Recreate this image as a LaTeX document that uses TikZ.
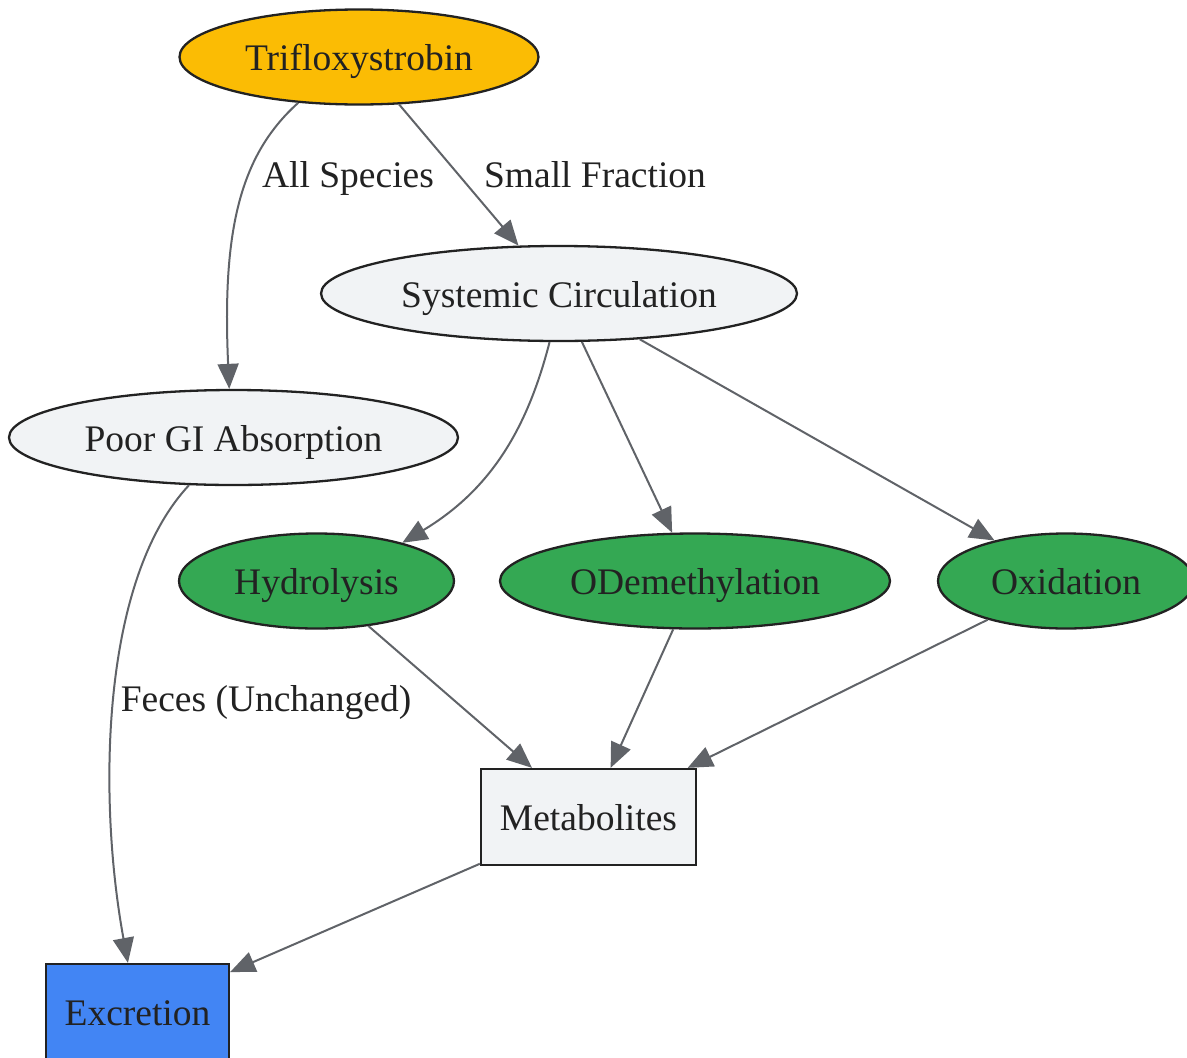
\documentclass[tikz,border=0pt]{standalone}
\usepackage{fontspec}
\setmainfont{Liberation Serif}
\usetikzlibrary{shapes.geometric,arrows.meta}
\definecolor{txt}{HTML}{222222}
\definecolor{edgec}{HTML}{606368}
\definecolor{yel}{HTML}{FBBC04}
\definecolor{lgray}{HTML}{F1F3F5}
\definecolor{grn}{HTML}{34A853}
\definecolor{blu}{HTML}{4285F4}
\tikzset{
  base/.style={draw=txt, line width=2.3pt, text=txt, inner sep=0pt, text height=30pt, text depth=3pt, font=\fontsize{37.5}{45}\selectfont},
  ell/.style={base, ellipse, minimum height=95pt},
  box/.style={base, rectangle, minimum height=96pt},
  conn/.style={draw=edgec, line width=2pt, -{Triangle[length=25pt,width=21pt]}},
  lbl/.style={text=txt, font=\fontsize{37.5}{45}\selectfont, inner sep=0pt, anchor=base}
}
\begin{document}
\begin{tikzpicture}[x=1pt,y=-1pt]
\useasboundingbox (0,0) rectangle (1187,1058);
\node[ell, fill=yel, minimum width=359pt] (t) at (359,57) {Trifloxystrobin};
\node[ell, fill=lgray, minimum width=476pt] (s) at (559,293.5) {Systemic Circulation};
\node[ell, fill=lgray, minimum width=449pt] (p) at (233.5,437.5) {Poor GI Absorption};
\node[ell, fill=grn, minimum width=275pt] (h) at (316.5,581) {Hydrolysis};
\node[ell, fill=grn, minimum width=390pt] (o) at (695,581) {ODemethylation};
\node[ell, fill=grn, minimum width=256pt] (x) at (1066,581) {Oxidation};
\node[box, fill=lgray, minimum width=215pt] (m) at (588.5,817) {Metabolites};
\node[box, fill=blu, minimum width=183pt] (e) at (137.5,1012) {Excretion};

\draw[conn] (t.217) .. controls (240,155) and (222,230) .. (p.95);
\draw[conn] (t) -- (s);
\draw[conn] (s.259) .. controls (527,430) and (490,490) .. (h.24);
\draw[conn] (s) -- (o);
\draw[conn] (s) -- (x);
\draw[conn] (p.227) .. controls (100,580) and (98,800) .. (e.101);
\draw[conn] (h) -- (m);
\draw[conn] (o) -- (m);
\draw[conn] (x) -- (m);
\draw[conn] (m) -- (e);

\node[lbl] (l1) at (348,187) {All Species};
\node[lbl] (l2) at (595,187) {Small Fraction};
\node[lbl] (l3) at (266,711) {Feces (Unchanged)};
\end{tikzpicture}
\end{document}
